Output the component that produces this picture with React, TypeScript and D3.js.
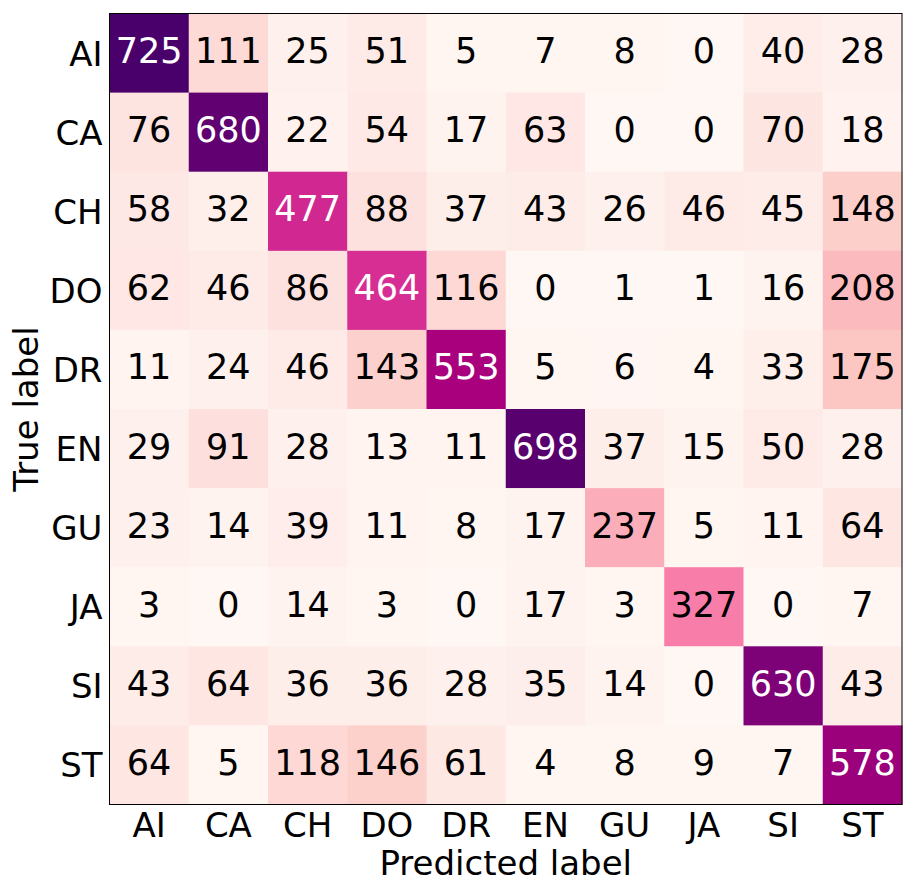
import React, { useEffect, useRef } from "react";
import * as d3 from "d3";

const labels = ["AI", "CA", "CH", "DO", "DR", "EN", "GU", "JA", "SI", "ST"];

// rows = true label, columns = predicted label
const matrix = [
  [725, 111, 25, 51, 5, 7, 8, 0, 40, 28],
  [76, 680, 22, 54, 17, 63, 0, 0, 70, 18],
  [58, 32, 477, 88, 37, 43, 26, 46, 45, 148],
  [62, 46, 86, 464, 116, 0, 1, 1, 16, 208],
  [11, 24, 46, 143, 553, 5, 6, 4, 33, 175],
  [29, 91, 28, 13, 11, 698, 37, 15, 50, 28],
  [23, 14, 39, 11, 8, 17, 237, 5, 11, 64],
  [3, 0, 14, 3, 0, 17, 3, 327, 0, 7],
  [43, 64, 36, 36, 28, 35, 14, 0, 630, 43],
  [64, 5, 118, 146, 61, 4, 8, 9, 7, 578],
];

const App = () => {
  const svgRef = useRef<SVGSVGElement>(null);

  useEffect(() => {
    const W = 918;
    const H = 892;
    const margin = { top: 13.5, right: 16, bottom: 87.5, left: 109.5 };
    const width = W - margin.left - margin.right;
    const height = H - margin.top - margin.bottom;
    const font = "DejaVu Sans, sans-serif";

    const svg = d3.select(svgRef.current);
    svg.selectAll("*").remove();
    svg.attr("width", W).attr("height", H);

    const g = svg
      .append("g")
      .attr("transform", `translate(${margin.left},${margin.top})`);

    const x = d3.scaleBand().domain(labels).range([0, width]);
    const y = d3.scaleBand().domain(labels).range([0, height]);

    const maxVal = d3.max(matrix.flat()) as number;
    // matplotlib RdPu: linear interpolation through the 9 brewer colours
    const stops = d3.schemeRdPu[9];
    const color = d3
      .scaleLinear<string>()
      .domain(stops.map((_, i) => (i / (stops.length - 1)) * maxVal))
      .range(stops)
      .interpolate(d3.interpolateRgb);

    const cells = matrix.flatMap((row, r) =>
      row.map((v, c) => ({ r: labels[r], c: labels[c], v }))
    );

    g.selectAll("rect.cell")
      .data(cells)
      .join("rect")
      .attr("class", "cell")
      .attr("x", (d) => x(d.c)!)
      .attr("y", (d) => y(d.r)!)
      .attr("width", x.bandwidth() + 0.5)
      .attr("height", y.bandwidth() + 0.5)
      .attr("fill", (d) => color(d.v));

    g.selectAll("text.val")
      .data(cells)
      .join("text")
      .attr("class", "val")
      .attr("x", (d) => x(d.c)! + x.bandwidth() / 2)
      .attr("y", (d) => y(d.r)! + y.bandwidth() / 2 + 10)
      .attr("text-anchor", "middle")
      .attr("font-family", font)
      .attr("font-size", 35)
      .attr("fill", (d) => (d.v > maxVal / 2 ? "white" : "black"))
      .text((d) => d.v);

    // frame
    g.append("rect")
      .attr("width", width)
      .attr("height", height)
      .attr("fill", "none")
      .attr("stroke", "black")
      .attr("stroke-width", 1);

    // x tick labels
    g.selectAll("text.xt")
      .data(labels)
      .join("text")
      .attr("class", "xt")
      .attr("x", (d) => x(d)! + x.bandwidth() / 2)
      .attr("y", height + 32.5)
      .attr("text-anchor", "middle")
      .attr("font-family", font)
      .attr("font-size", 34)
      .text((d) => d);

    // y tick labels
    g.selectAll("text.yt")
      .data(labels)
      .join("text")
      .attr("class", "yt")
      .attr("x", -7)
      .attr("y", (d) => y(d)! + y.bandwidth() / 2 + 12.5)
      .attr("text-anchor", "end")
      .attr("font-family", font)
      .attr("font-size", 34)
      .text((d) => d);

    // axis titles
    g.append("text")
      .attr("x", width / 2)
      .attr("y", height + 70)
      .attr("text-anchor", "middle")
      .attr("font-family", font)
      .attr("font-size", 34)
      .text("Predicted label");

    g.append("text")
      .attr("transform", `translate(${-72},${height / 2}) rotate(-90)`)
      .attr("text-anchor", "middle")
      .attr("font-family", font)
      .attr("font-size", 34)
      .text("True label");
  }, []);

  return (
    <div style={{ position: "absolute", left: 0, top: 0 }}>
      <svg ref={svgRef} />
    </div>
  );
};

export default App;
